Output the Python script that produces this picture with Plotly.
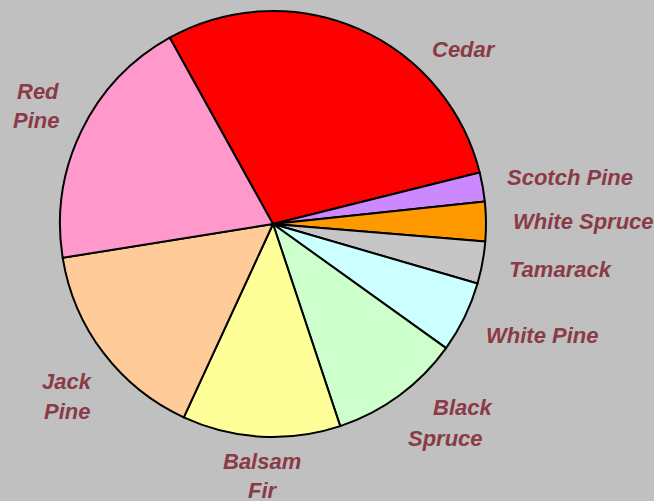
import plotly.graph_objects as go

labels = ["Cedar", "Scotch Pine", "White Spruce", "Tamarack", "White Pine",
          "Black Spruce", "Balsam Fir", "Jack Pine", "Red Pine"]
values = [29.2, 2.2, 3.0, 3.2, 5.4, 10.0, 12.0, 15.6, 19.5]
# how each label is broken into lines on the chart
label_lines = [["Cedar"], ["Scotch Pine"], ["White Spruce"], ["Tamarack"], ["White Pine"],
               ["Black", "Spruce"], ["Balsam", "Fir"], ["Jack", "Pine"], ["Red", "Pine"]]

colors = ["#ff0000", "#cc88ff", "#ff9900", "#c6c6c6", "#ccffff",
          "#ccffcc", "#ffff99", "#ffcc99", "#ff99cc"]

W, H = 654, 501
# line centre positions in pixels (layout only)
line_pos = [[(464, 49)], [(570, 177)], [(583, 222)], [(561, 269)], [(542, 335)],
            [(463, 407), (446, 438)], [(262, 461), (263, 490)],
            [(67, 381), (67, 411)], [(38, 91), (36, 121)]]

fig = go.Figure(go.Pie(
    labels=labels, values=values, sort=False, direction="clockwise",
    rotation=-29,
    marker=dict(colors=colors, line=dict(color="black", width=2)),
    textinfo="none", hoverinfo="label+value",
    domain=dict(x=[60 / W, 486 / W], y=[1 - 437 / H, 1 - 11 / H]),
    showlegend=False,
))

for lines, poss in zip(label_lines, line_pos):
    for t, (px, py) in zip(lines, poss):
        fig.add_annotation(
            x=px / W, y=1 - py / H, xref="paper", yref="paper",
            text=t, showarrow=False, xanchor="center", yanchor="middle",
            font=dict(family="Liberation Sans, Arial, sans-serif", size=22,
                      color="#8b3a47", weight="bold", style="italic"),
        )

fig.update_layout(
    width=W, height=H, margin=dict(l=0, r=0, t=0, b=0),
    paper_bgcolor="#c0c0c0", plot_bgcolor="#c0c0c0",
)
fig.write_html("out.html", config={"displayModeBar": False},
               post_script="document.body.style.margin='0px';document.body.style.background='#c0c0c0';")
